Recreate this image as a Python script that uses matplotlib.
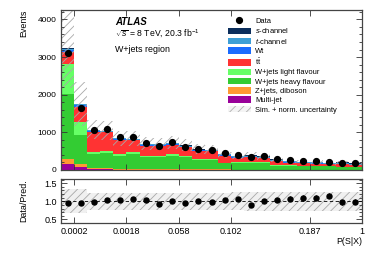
import numpy as np
import matplotlib
matplotlib.use("Agg")
import matplotlib.pyplot as plt
from matplotlib.patches import Patch
from matplotlib.lines import Line2D
from matplotlib.ticker import MultipleLocator, FixedLocator, NullLocator

plt.rcParams['font.family'] = ['Liberation Sans', 'DejaVu Sans']
plt.rcParams['mathtext.fontset'] = 'custom'
plt.rcParams['mathtext.rm'] = 'Liberation Sans'
plt.rcParams['mathtext.it'] = 'Liberation Sans:italic'
plt.rcParams['hatch.linewidth'] = 0.6

# ---- data (23 equal-width display bins) ----
tick_pos = [1, 5, 9, 13, 19, 23]
tick_labels = ["0.0002", "0.0018", "0.058", "0.102", "0.187", "1"]

data = [3107, 1660, 1060, 1086, 883, 883, 724, 644, 733, 618, 548, 530,
        442, 406, 353, 362, 291, 256, 238, 230, 212, 194, 177]

multijet = [150, 75, 15, 15, 10, 10, 9, 9, 9, 8, 8, 8, 7, 6, 6, 6, 5, 5, 4, 4, 4, 3, 3]
zjets = [130, 75, 25, 25, 15, 15, 12, 12, 12, 10, 10, 10, 8, 6, 6, 6, 4, 4, 4, 4, 4, 3, 3]
wheavy = [1750, 770, 390, 420, 360, 400, 320, 320, 360, 330, 240, 240,
          160, 170, 170, 170, 110, 110, 88, 88, 88, 72, 72]
wlight = [795, 350, 50, 50, 40, 45, 35, 35, 40, 35, 30, 30,
          22, 18, 18, 18, 13, 13, 10, 10, 10, 9, 9]
ttbar = [310, 412, 540, 487, 367, 315, 274, 271, 246, 222, 214, 207,
         182, 130, 138, 114, 107, 66, 72, 65, 41, 71, 51]
wt = [55, 40, 25, 25, 22, 22, 20, 20, 20, 18, 16, 16, 13, 12, 12, 11, 9, 8, 7, 7, 6, 6, 5]
tchan = [35, 30, 22, 22, 25, 25, 25, 25, 27, 27, 25, 26, 25, 30, 32, 30, 28, 25, 24, 24, 22, 26, 24]
schan = [8, 6, 4, 4, 4, 4, 4, 4, 5, 5, 5, 5, 5, 6, 7, 7, 7, 7, 7, 8, 8, 10, 12]

rel_unc = [0.33, 0.33, 0.24, 0.24, 0.24, 0.24, 0.24, 0.24, 0.24, 0.24, 0.24, 0.24,
           0.24, 0.25, 0.26, 0.26, 0.26, 0.26, 0.26, 0.26, 0.26, 0.26, 0.26]

components = [
    ("Multi-jet", multijet, "#990099"),
    ("Z+jets, diboson", zjets, "#ff9933"),
    ("W+jets heavy flavour", wheavy, "#33cc33"),
    ("W+jets light flavour", wlight, "#66ff66"),
    (r"t$\bar{\mathrm{t}}$", ttbar, "#ff3333"),
    ("Wt", wt, "#1a6bff"),
    (r"$t$-channel", tchan, "#3d9fd6"),
    (r"$s$-channel", schan, "#0b2e5c"),
]

nb = len(data)
edges = np.arange(nb + 1)
centers = edges[:-1] + 0.5
data = np.array(data, float)

W, H = 382, 256
fig = plt.figure(figsize=(W / 100, H / 100), dpi=100)
ax1 = fig.add_axes([61 / W, 1 - 170 / H, 301 / W, 160 / H])
ax2 = fig.add_axes([61 / W, 1 - 223.3 / H, 301 / W, 44 / H])

bottom = np.zeros(nb)
for name, vals, col in components:
    v = np.array(vals, float)
    ax1.bar(edges[:-1], v, width=1.0, bottom=bottom, align='edge', color=col,
            linewidth=0)
    bottom += v
total = bottom
unc = np.array(rel_unc) * total

ax1.bar(edges[:-1], 2 * unc, width=1.0, bottom=total - unc, align='edge',
        facecolor='none', edgecolor='#a8a8a8', hatch='////', linewidth=0)
ax1.errorbar(centers, data, yerr=np.sqrt(data), fmt='o', color='k', ms=4.2,
             elinewidth=0.8, capsize=0)

ratio = data / total
ax2.bar(edges[:-1], 2 * np.array(rel_unc), width=1.0, bottom=1 - np.array(rel_unc),
        align='edge', facecolor='#f0f0f0', edgecolor='#a8a8a8', hatch='////',
        linewidth=0)
ax2.axhline(1.0, ls=(0, (4, 3)), color='k', lw=0.6)
ax2.errorbar(centers, ratio, yerr=np.sqrt(data) / total, fmt='o', color='k',
             ms=3.6, elinewidth=0.8, capsize=0)

for ax in (ax1, ax2):
    ax.set_xlim(0, nb)
    ax.xaxis.set_major_locator(FixedLocator(tick_pos))
    ax.xaxis.set_minor_locator(NullLocator())
    ax.tick_params(which='both', direction='in', top=True, right=True,
                   color='#333333', width=0.6)
    ax.tick_params(which='major', length=4)
    ax.tick_params(which='minor', length=2)
    for s in ax.spines.values():
        s.set_color('#444444')
        s.set_linewidth(0.9)

ax1.set_ylim(0, 4250)
ax1.yaxis.set_major_locator(MultipleLocator(1000))
ax1.yaxis.set_minor_locator(MultipleLocator(200))
ax1.set_xticklabels([])
ax1.tick_params(axis='y', labelsize=6, pad=3)

ax2.set_ylim(0.39, 1.61)
ax2.yaxis.set_major_locator(FixedLocator([0.5, 1.0, 1.5]))
ax2.set_yticklabels(["0.5", "1.0", "1.5"])
ax2.yaxis.set_minor_locator(MultipleLocator(0.1))
ax2.set_xticklabels(tick_labels)
ax2.tick_params(axis='x', labelsize=6.5, pad=3)
ax2.tick_params(axis='y', labelsize=6.5, pad=3)

fig.text(24 / W, 1 - 10 / H, "Events", rotation=90, ha='center', va='top', fontsize=6.4)
fig.text(24 / W, 1 - 201 / H, "Data/Pred.", rotation=90, ha='center', va='center', fontsize=6.4)
fig.text(362 / W, 1 - 241 / H, "P(S|X)", ha='right', va='center', fontsize=6.4)

ax1.text(115 / W, 1 - 22 / H, "ATLAS", transform=fig.transFigure, fontsize=7,
         fontweight='bold', style='italic', va='center')
ax1.text(115 / W, 1 - 34 / H, r"$\sqrt{s}$ = 8 TeV, 20.3 fb$^{-1}$",
         transform=fig.transFigure, fontsize=6.2, va='center')
ax1.text(115 / W, 1 - 50 / H, "W+jets region", transform=fig.transFigure,
         fontsize=6.4, va='center')

handles = [Line2D([], [], marker='o', color='k', ls='none', ms=4.2)]
labels = ["Data"]
for name, vals, col in components[::-1]:
    handles.append(Patch(facecolor=col, edgecolor='none'))
    labels.append(name)
handles.append(Patch(facecolor='#f4f4f4', edgecolor='#b0b0b0', hatch='////', linewidth=0))
labels.append("Sim. + norm. uncertainty")
ax1.legend(handles, labels, loc='upper left',
           bbox_to_anchor=((228 - 61) / 301, (170 - 17) / 160),
           frameon=False, fontsize=5.4, handlelength=3.0, handleheight=0.95,
           labelspacing=0.2, handletextpad=0.6, borderpad=0, borderaxespad=0)

fig.savefig("out.png", dpi=100)
